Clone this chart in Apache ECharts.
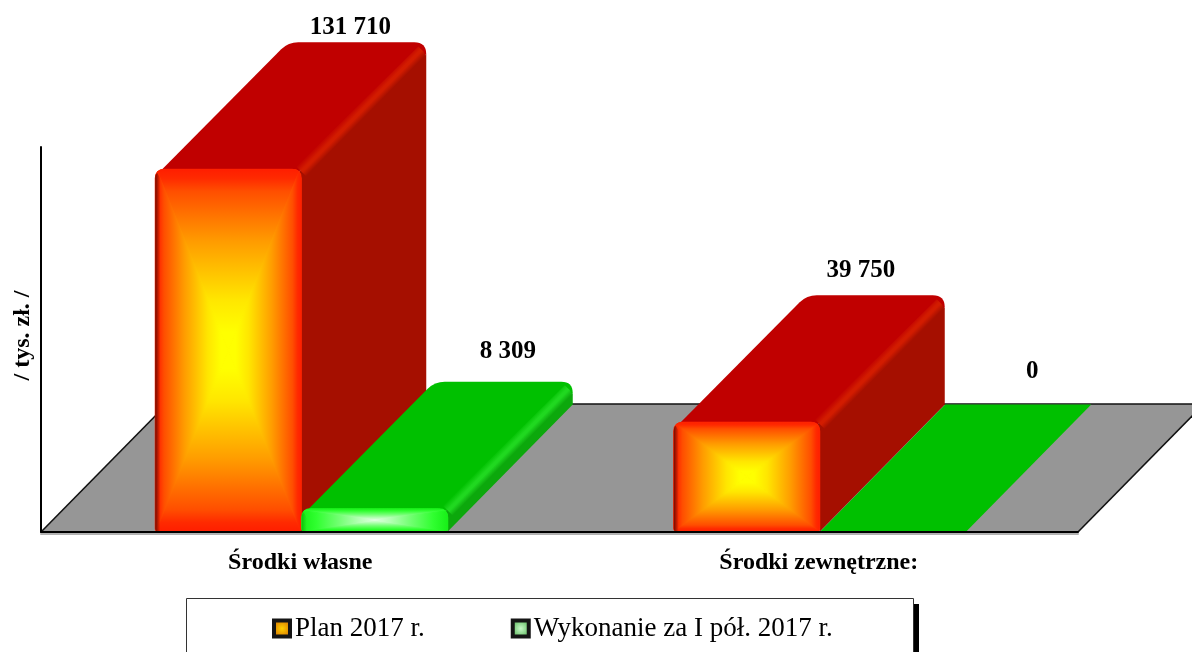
<!DOCTYPE html>
<html><head><meta charset="utf-8">
<style>html,body{margin:0;padding:0;background:#fff}#c{width:1192px;height:652px}</style>
<script src="https://cdn.jsdelivr.net/npm/echarts@6/dist/echarts.min.js"></script>
</head><body><div id="c"></div>
<script>
const categories = ['Środki własne', 'Środki zewnętrzne:'];
const planValues = [131710, 39750];
const doneValues = [8309, 0];
const seriesNames = ['Plan 2017 r.', 'Wykonanie za I pół. 2017 r.'];
const axisName = '/ tys. zł. /';

// drawing settings
const SERIF = '"Liberation Serif","Times New Roman",serif';
const DEPTH_X = 125, DEPTH_Y = -127;
const BAR_RATIO = 146 / 518.5;
const planNudge = [[-3, -15], [-11, -25]];
const doneNudge = [[8, -30], [14, -33]];
const redStyle = {
  top: '#C00000', side: '#A50F00', strip: '#D21C00', edgeShade: 'rgba(100,10,0,0.9)',
  stops: [[0, '#FF1E00'], [0.05, '#FF2A00'], [0.12, '#FF4E00'], [0.4, '#FF9C00'], [0.72, '#FFE600'], [0.9, '#FFFF00'], [1, '#FFFF00']],
  base: '#FF8000'
};
const greenStyle = {
  top: '#00C000', side: '#0CA80C', strip: '#20D820', edgeShade: 'rgba(0,150,0,0.5)',
  stops: [[0, '#18F018'], [0.2, '#30FF30'], [0.5, '#70FF70'], [0.8, '#B8FFB8'], [1, '#E0FFE0']],
  base: '#40FF40'
};

function fmt(v) { return String(v).replace(/\B(?=(\d{3})+$)/g, ' '); }
function lin(x, y, x2, y2, stops) {
  return { type: 'linear', x, y, x2, y2, global: true,
    colorStops: stops.map(s => ({ offset: s[0], color: s[1] })) };
}
function wedge(d, grad) {
  return { type: 'path', shape: { pathData: d }, style: { fill: grad, stroke: grad, lineWidth: 1 } };
}

function drawBar(L, R, T, B, value, st, nudge) {
  const kids = [];
  const dx = DEPTH_X, dy = DEPTH_Y, h = B - T;
  const cx = (L + R) / 2;
  const label = (yTop) => ({
    type: 'text', z2: 20,
    style: { text: fmt(value), x: cx + dx + nudge[0], y: yTop + dy + nudge[1],
      textAlign: 'center', textVerticalAlign: 'middle',
      font: 'bold 25px ' + SERIF, fill: '#000' }
  });
  if (h < 2) {
    kids.push({ type: 'polygon', shape: { points: [[L, B], [R, B], [R + dx, B + dy], [L + dx, B + dy]] }, style: { fill: st.top } });
    kids.push(label(B));
    return kids;
  }
  const r = Math.min(12, h / 2), rb = 10, lean = 8;
  // side face
  kids.push({ type: 'path', shape: { pathData:
    `M${R - 4} ${T + 4} L${R + dx} ${T + dy + r} L${R + dx} ${B + dy} L${R} ${B} Z` },
    style: { fill: st.side } });
  // top face
  const a = 0.707 * rb, vx = L + dx + lean;
  kids.push({ type: 'path', shape: { pathData:
    `M${L + 4} ${T + 3} L${vx - a} ${T + dy + a} Q${vx} ${T + dy} ${vx + rb} ${T + dy} ` +
    `L${R + dx - r} ${T + dy} Q${R + dx} ${T + dy} ${R + dx} ${T + dy + r} L${R - 4} ${T + 4} Z` },
    style: { fill: st.top } });
  // bevel stripe between top and side
  const px = 0.71, py = 0.70, w = 7;
  const ex = R + dx - 3, ey = T + dy + r - 3;
  kids.push({ type: 'polygon', shape: { points: [
      [R - px * w, T - py * w + 2], [ex - px * w, ey - py * w], [ex, ey], [ex + px * w * 0.5, ey + py * w],
      [R + px * w, T + py * w + 2]] },
    style: { fill: lin(R - px * w, T - py * w + 2, R + px * w, T + py * w + 2,
      [[0, st.top], [0.45, st.strip], [0.6, st.strip], [1, st.side]]) } });
  // front face: four gradient wedges meeting at the centre
  const cy = (T + B) / 2, q = Math.min(9, h / 2), s = 3;
  kids.push({ type: 'path', shape: { pathData:
    `M${L} ${T + q} Q${L} ${T} ${L + q} ${T} L${R - q} ${T} Q${R} ${T} ${R} ${T + q} L${R} ${B - s} Q${R} ${B} ${R - s} ${B} L${L + s} ${B} Q${L} ${B} ${L} ${B - s} Z` },
    style: { fill: st.base } });
  kids.push(wedge(`M${cx} ${cy} L${L + q * .25} ${T + q * .25} Q${L + q * .5} ${T} ${L + q} ${T} L${R - q} ${T} Q${R - q * .5} ${T} ${R - q * .25} ${T + q * .25} Z`,
    lin(0, T, 0, cy, st.stops)));
  kids.push(wedge(`M${cx} ${cy} L${L + s * .25} ${B - s * .25} Q${L + s * .5} ${B} ${L + s} ${B} L${R - s} ${B} Q${R - s * .5} ${B} ${R - s * .25} ${B - s * .25} Z`,
    lin(0, B, 0, cy, st.stops)));
  kids.push(wedge(`M${cx} ${cy} L${L + q * .25} ${T + q * .25} Q${L} ${T + q * .5} ${L} ${T + q} L${L} ${B - s} Q${L} ${B - s * .5} ${L + s * .25} ${B - s * .25} Z`,
    lin(L, 0, cx, 0, st.stops)));
  kids.push(wedge(`M${cx} ${cy} L${R - q * .25} ${T + q * .25} Q${R} ${T + q * .5} ${R} ${T + q} L${R} ${B - s} Q${R} ${B - s * .5} ${R - s * .25} ${B - s * .25} Z`,
    lin(R, 0, cx, 0, st.stops)));
  // dark left edge
  kids.push({ type: 'path', shape: { pathData:
    `M${L} ${T + q} Q${L} ${T + q * .5} ${L + 2} ${T + q * .4} L${L + 5} ${T + q} L${L + 5} ${B} L${L + s} ${B} Q${L} ${B} ${L} ${B - s} Z` },
    style: { fill: lin(L, 0, L + 5, 0, [[0, st.edgeShade], [1, st.edgeShade.replace(/[\d.]+\)$/, '0)')]]) } });
  kids.push(label(T));
  return kids;
}

function barItem(values, st, nudges, isPlan) {
  return function (params, api) {
    const i = params.dataIndex, v = values[i];
    const base = api.coord([i, 0]), top = api.coord([i, v]);
    const w = api.size([1, 0])[0] * BAR_RATIO;
    const L = isPlan ? base[0] - w + 1 : base[0] + 1.5;
    const B = base[1] - 0.5, T = top[1] - 0.5;
    return { type: 'group', children: drawBar(L, L + w, T, B, v, st, nudges[i]) };
  };
}

function floorItem(params, api) {
  const c = params.coordSys;
  const x0 = c.x, x1 = c.x + c.width, y0 = c.y + c.height, yb = y0 + DEPTH_Y - 1, dxb = DEPTH_X + 1;
  const edge = { stroke: '#111', lineWidth: 1.6, fill: null };
  return { type: 'group', children: [
    { type: 'polygon', shape: { points: [[x0, y0], [x1, y0], [x1 + dxb, yb], [x0 + dxb, yb]] }, style: { fill: '#969696' } },
    { type: 'line', shape: { x1: x0, y1: y0, x2: x0 + dxb, y2: yb }, style: edge },
    { type: 'line', shape: { x1: x1, y1: y0, x2: x1 + dxb, y2: yb }, style: edge },
    { type: 'line', shape: { x1: x0 + dxb, y1: yb, x2: x1 + dxb, y2: yb }, style: edge }
  ] };
}

const chart = echarts.init(document.getElementById('c'), null, { renderer: 'canvas' });
chart.setOption({
  animation: false,
  backgroundColor: '#fff',
  grid: { left: 41, right: 114, top: 147, bottom: 120, outerBoundsMode: 'none' },
  xAxis: {
    type: 'category', data: categories, z: 5,
    axisLine: { lineStyle: { color: '#000', width: 2, shadowColor: 'rgba(0,0,0,0.3)', shadowOffsetY: 2 } },
    axisTick: { show: false },
    axisLabel: { margin: 19, color: '#000', fontFamily: SERIF, fontWeight: 'bold', fontSize: 24, hideOverlap: false, interval: 0 }
  },
  yAxis: {
    type: 'value', min: 0, max: 140000, z: 5,
    name: axisName, nameLocation: 'middle', nameGap: 6, nameRotate: 90,
    nameTextStyle: { color: '#000', fontFamily: SERIF, fontWeight: 'bold', fontSize: 24, padding: [0, 0, 0, 8] },
    axisLine: { show: true, lineStyle: { color: '#000', width: 2 } },
    axisTick: { show: false }, axisLabel: { show: false }, splitLine: { show: false }
  },
  legend: {
    left: 272, top: 615, z: 5, selectedMode: false, itemGap: 86, itemWidth: 16, itemHeight: 16, padding: 0,
    textStyle: { color: '#000', fontFamily: SERIF, fontSize: 27 },
    data: [
      { name: seriesNames[0], icon: 'rect', itemStyle: { borderColor: '#151515', borderWidth: 4,
        color: { type: 'radial', x: .5, y: .5, r: .7, colorStops: [{ offset: 0, color: '#FFD000' }, { offset: 1, color: '#C85000' }] } } },
      { name: seriesNames[1], icon: 'rect', itemStyle: { borderColor: '#151515', borderWidth: 4,
        color: { type: 'radial', x: .5, y: .5, r: .7, colorStops: [{ offset: 0, color: '#C8F8C8' }, { offset: 1, color: '#30A030' }] } } }
    ]
  },
  graphic: [
    { type: 'rect', z: 1, shape: { x: 186.5, y: 598.5, width: 727, height: 80 }, style: { fill: '#fff', stroke: '#333', lineWidth: 1 } },
    { type: 'rect', z: 1, shape: { x: 914, y: 604, width: 5, height: 60 }, style: { fill: '#000' } }
  ],
  series: [
    { type: 'custom', name: 'floor', z: 1, silent: true, clip: false, renderItem: floorItem, data: [0], encode: { x: -1, y: -1 } },
    { type: 'custom', name: seriesNames[0], z: 2, clip: false, itemStyle: { color: '#FF8000' },
      renderItem: barItem(planValues, redStyle, planNudge, true),
      data: planValues.map((v, i) => [i, v]), encode: { x: 0, y: 1 } },
    { type: 'custom', name: seriesNames[1], z: 3, clip: false, itemStyle: { color: '#40FF40' },
      renderItem: barItem(doneValues, greenStyle, doneNudge, false),
      data: doneValues.map((v, i) => [i, v]), encode: { x: 0, y: 1 } }
  ]
});
</script></body></html>
